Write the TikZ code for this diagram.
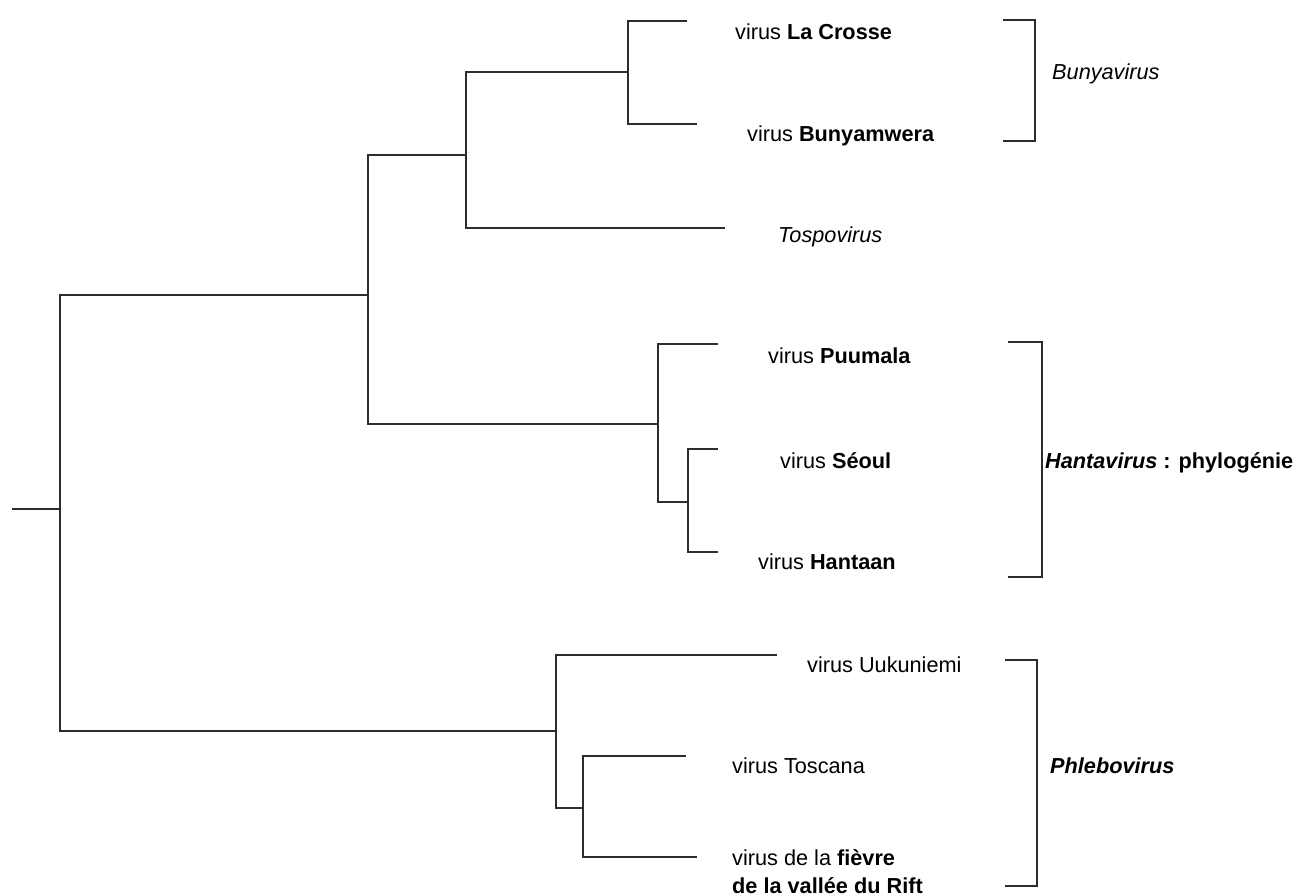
\documentclass[tikz,border=0pt]{standalone}
\usepackage{fontspec}
\setmainfont{Liberation Sans}
\definecolor{treeGrey}{RGB}{45,45,45}

\begin{document}
\begin{tikzpicture}[
  x=1pt, y=-1pt,
  branch/.style={draw=treeGrey, line width=1.6pt},
  bracket/.style={draw=treeGrey, line width=1.6pt},
  taxon/.style={
    anchor=base west,
    inner sep=0pt,
    align=left,
    font=\fontsize{21.7}{28}\selectfont
  },
  group/.style={anchor=base west, inner sep=0pt, font=\fontsize{21.7}{28}\selectfont}
]
  \useasboundingbox (0,0) rectangle (1298,896);

  \coordinate (rootStub) at (12,509);
  \coordinate (root) at (60,509);
  \coordinate (upperClade) at (368,295);
  \coordinate (bunyaClade) at (466,155);
  \coordinate (bunyaPair) at (628,72);
  \coordinate (hantaClade) at (658,424);
  \coordinate (hantaPair) at (688,502);
  \coordinate (phleboClade) at (556,731);
  \coordinate (phleboPair) at (583,808);

  \coordinate (laCrosseTip) at (687,21);
  \coordinate (bunyamweraTip) at (697,124);
  \coordinate (tospoTip) at (725,228);
  \coordinate (puumalaTip) at (718,344);
  \coordinate (seoulTip) at (718,449);
  \coordinate (hantaanTip) at (718,552);
  \coordinate (uukuniemiTip) at (777,655);
  \coordinate (toscanaTip) at (686,756);
  \coordinate (riftTip) at (697,857);

  \draw[branch] (rootStub) -- (root);
  \draw[branch] (root) |- (upperClade);
  \draw[branch] (root) |- (phleboClade);
  \draw[branch] (upperClade) |- (bunyaClade);
  \draw[branch] (upperClade) |- (hantaClade);
  \draw[branch] (bunyaClade) |- (bunyaPair);
  \draw[branch] (bunyaClade) |- (tospoTip);
  \draw[branch] (bunyaPair) |- (laCrosseTip);
  \draw[branch] (bunyaPair) |- (bunyamweraTip);
  \draw[branch] (hantaClade) |- (puumalaTip);
  \draw[branch] (hantaClade) |- (hantaPair);
  \draw[branch] (hantaPair) |- (seoulTip);
  \draw[branch] (hantaPair) |- (hantaanTip);
  \draw[branch] (phleboClade) |- (uukuniemiTip);
  \draw[branch] (phleboClade) |- (phleboPair);
  \draw[branch] (phleboPair) |- (toscanaTip);
  \draw[branch] (phleboPair) |- (riftTip);

  \node[taxon] (laCrosse) at (735,40) {virus \textbf{La Crosse}};
  \node[taxon] (bunyamwera) at (747,142) {virus \textbf{Bunyamwera}};
  \node[taxon] (tospo) at (778,243) {\textit{Tospovirus}};
  \node[taxon] (puumala) at (768,363) {virus \textbf{Puumala}};
  \node[taxon] (seoul) at (780,468) {virus \textbf{Séoul}};
  \node[taxon] (hantaan) at (758,569) {virus \textbf{Hantaan}};
  \node[taxon] (uukuniemi) at (807,672) {virus Uukuniemi};
  \node[taxon] (toscana) at (732,773) {virus Toscana};
  \node[taxon] (rift) at (732,893)
    {virus de la \textbf{fièvre}\\\textbf{de la vallée du Rift}};

  \coordinate (bunyaBrTop) at (1003,20);
  \coordinate (bunyaBrSide) at (1035,141);
  \coordinate (bunyaBrEnd) at (1003,141);
  \coordinate (hantaBrTop) at (1008,342);
  \coordinate (hantaBrSide) at (1042,577);
  \coordinate (hantaBrEnd) at (1008,577);
  \coordinate (phleboBrTop) at (1005,660);
  \coordinate (phleboBrSide) at (1037,886);
  \coordinate (phleboBrEnd) at (1005,886);

  \draw[bracket] (bunyaBrTop) -| (bunyaBrSide) -- (bunyaBrEnd);
  \draw[bracket] (hantaBrTop) -| (hantaBrSide) -- (hantaBrEnd);
  \draw[bracket] (phleboBrTop) -| (phleboBrSide) -- (phleboBrEnd);

  \node[group] (bunyavirus) at (1052,80) {\textit{Bunyavirus}};
  \node[group] (hantavirus) at (1045,468)
    {\textbf{\textit{Hantavirus} : phylogénie}};
  \node[group] (phlebovirus) at (1050,773) {\textbf{\textit{Phlebovirus}}};
\end{tikzpicture}
\end{document}
